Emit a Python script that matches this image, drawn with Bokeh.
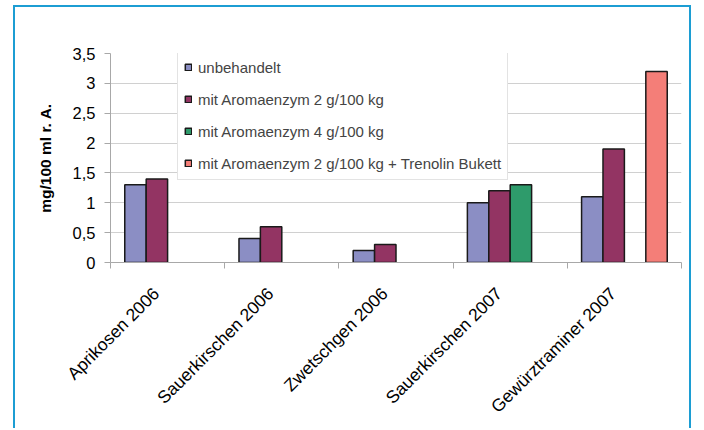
import numpy as np
from bokeh.plotting import figure
from bokeh.models import ColumnDataSource, FixedTicker, Legend, LegendItem, Range1d
from bokeh.embed import file_html
from bokeh.resources import INLINE

categories = ["Aprikosen 2006", "Sauerkirschen 2006", "Zwetschgen 2006",
              "Sauerkirschen 2007", "Gewürztraminer 2007"]
series_names = ["unbehandelt", "mit Aromaenzym 2 g/100 kg", "mit Aromaenzym 4 g/100 kg",
                "mit Aromaenzym 2 g/100 kg + Trenolin Bukett"]
unbehandelt = [1.3, 0.4, 0.2, 1.0, 1.1]
aroma_2 = [1.4, 0.6, 0.3, 1.2, 1.9]
aroma_4 = [None, None, None, 1.3, None]
aroma_2_trenolin = [None, None, None, None, 3.2]
y_ticks = [0, 0.5, 1, 1.5, 2, 2.5, 3, 3.5]
y_tick_labels = ["0", "0,5", "1", "1,5", "2", "2,5", "3", "3,5"]

colors = ["#8B8EC4", "#933463", "#2E9B6B", "#F47E78"]
all_series = [unbehandelt, aroma_2, aroma_4, aroma_2_trenolin]

FONT = "'Liberation Sans', Arial, sans-serif"
bar_w = 0.1875

p = figure(width=678, height=423, output_backend="svg", toolbar_location=None,
           x_range=Range1d(0, len(categories)), y_range=Range1d(0, 3.5),
           min_border_left=95, min_border_right=12, min_border_top=46,
           min_border_bottom=168, outline_line_color=None)
p.styles = {"margin-left": "13px", "margin-top": "5px",
            "border-left": "2px solid #1C9DD3", "border-right": "2px solid #1C9DD3",
            "border-top": "2px solid #1C9DD3"}

items = []
for k, (vals, name, col) in enumerate(zip(all_series, series_names, colors)):
    xs, tops = [], []
    for i, v in enumerate(vals):
        if v is not None:
            xs.append(i + 0.5 + (k - 1.5) * bar_w)
            tops.append(v)
    src = ColumnDataSource(dict(x=xs, top=tops))
    r = p.vbar(x="x", top="top", width=bar_w, bottom=0, source=src,
               fill_color=col, line_color="#1a1a1a", line_width=1.5)
    items.append(LegendItem(label=name, renderers=[r]))

# axes
p.xgrid.visible = False
p.ygrid.grid_line_color = "#D0D0D0"
p.ygrid.grid_line_width = 1

p.yaxis.ticker = FixedTicker(ticks=y_ticks)
p.yaxis.major_label_overrides = {t: l for t, l in zip(y_ticks, y_tick_labels)}
p.yaxis.minor_tick_line_color = None
p.yaxis.major_tick_in = 0
p.yaxis.major_tick_out = 6
p.yaxis.axis_line_color = "#A8A8A8"
p.yaxis.major_tick_line_color = "#A8A8A8"
p.yaxis.major_label_text_font = FONT
p.yaxis.major_label_text_font_size = "16.5px"
p.yaxis.major_label_text_color = "black"
p.yaxis.major_label_standoff = 9
p.yaxis.axis_label = "mg/100 ml r. A."
p.yaxis.axis_label_text_font = FONT
p.yaxis.axis_label_text_font_style = "bold"
p.yaxis.axis_label_text_font_size = "15.5px"
p.yaxis.axis_label_text_color = "black"
p.yaxis.axis_label_standoff = 16

# label anchors sit slightly left of each category centre (rotated text)
label_pos = [round(i + 0.4, 3) for i in range(len(categories))]
bounds = list(range(len(categories) + 1))
p.xaxis.ticker = FixedTicker(ticks=label_pos, minor_ticks=bounds)
p.xaxis.major_label_overrides = {c: n for c, n in zip(label_pos, categories)}
p.xaxis.major_tick_line_color = None
p.xaxis.minor_tick_in = 0
p.xaxis.minor_tick_out = 6
p.xaxis.minor_tick_line_color = "#A8A8A8"
p.xaxis.axis_line_color = "#A8A8A8"
p.xaxis.major_label_orientation = np.pi / 4
p.xaxis.major_label_text_font = FONT
p.xaxis.major_label_text_font_size = "17.5px"
p.xaxis.major_label_text_color = "black"
p.xaxis.major_label_standoff = 22

legend = Legend(items=items, location=(67, 82), padding=6, spacing=12,
                label_height=20, glyph_width=8, glyph_height=8, label_standoff=6,
                label_text_font=FONT, label_text_font_size="15px",
                border_line_color="#C8C8C8", border_line_width=1,
                background_fill_color="white", background_fill_alpha=1,
                margin=0)
p.add_layout(legend, "center")

open("out.html", "w").write(file_html(p, INLINE))
